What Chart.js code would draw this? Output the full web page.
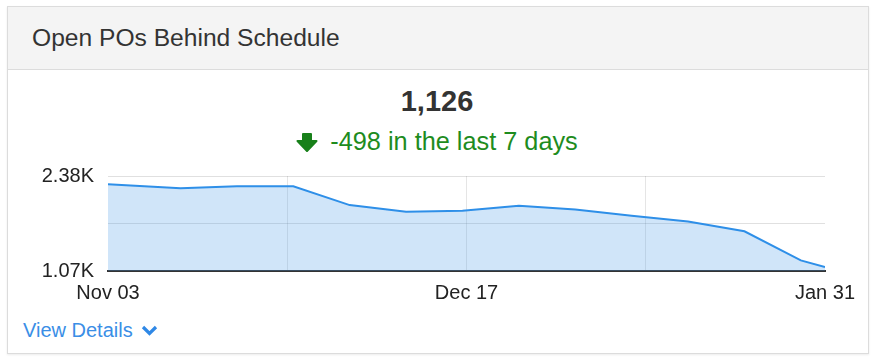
<!DOCTYPE html>
<html>
<head>
<meta charset="utf-8">
<script src="https://cdn.jsdelivr.net/npm/chart.js@4.4.0/dist/chart.umd.min.js"></script>
<style>
  body { margin: 0; width: 874px; height: 362px; background: #fff; font-family: "Liberation Sans", Arial, sans-serif; position: relative; overflow: hidden; }
  .card { position: absolute; left: 7px; top: 6px; width: 860px; height: 346px; border: 1px solid #dcdcdc; box-shadow: 0 1px 2px rgba(0,0,0,0.08); background: #fff; }
  .card-head { position: absolute; left: 0; top: 0; right: 0; height: 62px; background: #f4f4f4; border-bottom: 1px solid #dcdcdc; }
  .txt { position: absolute; white-space: nowrap; }
  #title { left: 32px; top: 25.5px; font-size: 24.6px; line-height: 24px; color: #333; }
  #total { left: 0; width: 874px; text-align: center; top: 87px; font-size: 29px; line-height: 29px; font-weight: bold; color: #333; }
  #delta { left: 0; width: 874px; text-align: center; top: 129px; font-size: 25.3px; line-height: 24px; color: #1e8c1e; }
  #delta svg { vertical-align: -2px; margin-right: 12px; }
  #details { left: 23px; top: 319.8px; font-size: 20px; line-height: 20px; color: #3a8ee6; }
  #details svg { margin-left: 8px; vertical-align: 1px; }
  #wrap { position: absolute; left: 0; top: 150px; width: 874px; height: 165px; }
</style>
</head>
<body>
<div class="card"><div class="card-head"></div></div>
<div class="txt" id="title">Open POs Behind Schedule</div>
<div class="txt" id="total">1,126</div>
<div class="txt" id="delta"><svg width="22" height="19" viewBox="0 0 22 19"><polygon points="7,1 15,1 15,8 20.5,8 11,18 1.5,8 7,8" fill="#18801a" stroke="#18801a" stroke-width="2" stroke-linejoin="round"/></svg>-498 in the last 7 days</div>
<div class="txt" id="details">View Details<svg width="17" height="11" viewBox="0 0 17 11"><polyline points="2,2 8.5,8.5 15,2" fill="none" stroke="#2f88e6" stroke-width="3.2"/></svg></div>
<div id="wrap"><canvas id="chart"></canvas></div>
<script>
// days since Nov 03
var days = [0, 9, 16, 23, 30, 37, 44, 51, 58, 65, 72, 79, 86, 89];
var openPOs = [2266, 2211, 2239, 2239, 1979, 1887, 1901, 1969, 1919, 1832, 1754, 1618, 1216, 1126];
var xTickDays = [0, 22.25, 44.5, 66.75, 89];
var xTickLabels = ["Nov 03", "", "Dec 17", "", "Jan 31"];
var yTickValues = [1070, 1725, 2380];
var yTickLabels = ["1.07K", "", "2.38K"];

var points = [];
for (var i = 0; i < days.length; i++) {
  points.push({ x: days[i], y: openPOs[i] });
}

var ctx = document.getElementById("chart");

var chart = new Chart(ctx, {
  type: "line",
  data: {
    datasets: [{
      data: points,
      borderColor: "#2e8fe8",
      borderWidth: 2,
      backgroundColor: "rgba(66,150,230,0.25)",
      fill: "start",
      tension: 0,
      pointRadius: 0
    }]
  },
  options: {
    responsive: true,
    maintainAspectRatio: false,
    animation: false,
    layout: { padding: { left: 42, right: 49, top: 25, bottom: 0 } },
    plugins: { legend: { display: false }, tooltip: { enabled: false } },
    scales: {
      x: {
        type: "linear",
        min: 0,
        max: 89,
        afterBuildTicks: function (scale) {
          scale.ticks = xTickDays.map(function (v) { return { value: v }; });
        },
        ticks: {
          autoSkip: false,
          maxRotation: 0,
          padding: 10,
          color: "#222",
          font: { family: "Liberation Sans", size: 20 },
          callback: function (v, idx) { return xTickLabels[idx]; }
        },
        grid: {
          drawTicks: false,
          color: function (c) {
            return (c.index === 0 || c.index === xTickDays.length - 1) ? "rgba(0,0,0,0)" : "rgba(0,0,0,0.1)";
          }
        },
        border: { display: true, color: "#333", width: 2 }
      },
      y: {
        min: 1070,
        max: 2380,
        afterBuildTicks: function (scale) {
          scale.ticks = yTickValues.map(function (v) { return { value: v }; });
        },
        afterFit: function (scale) { scale.width = 66; },
        ticks: {
          padding: 14,
          color: "#222",
          font: { family: "Liberation Sans", size: 20 },
          callback: function (v, idx) { return yTickLabels[idx]; }
        },
        grid: { drawTicks: false, color: "rgba(0,0,0,0.12)" },
        border: { display: false }
      }
    }
  }
});
</script>
</body>
</html>
